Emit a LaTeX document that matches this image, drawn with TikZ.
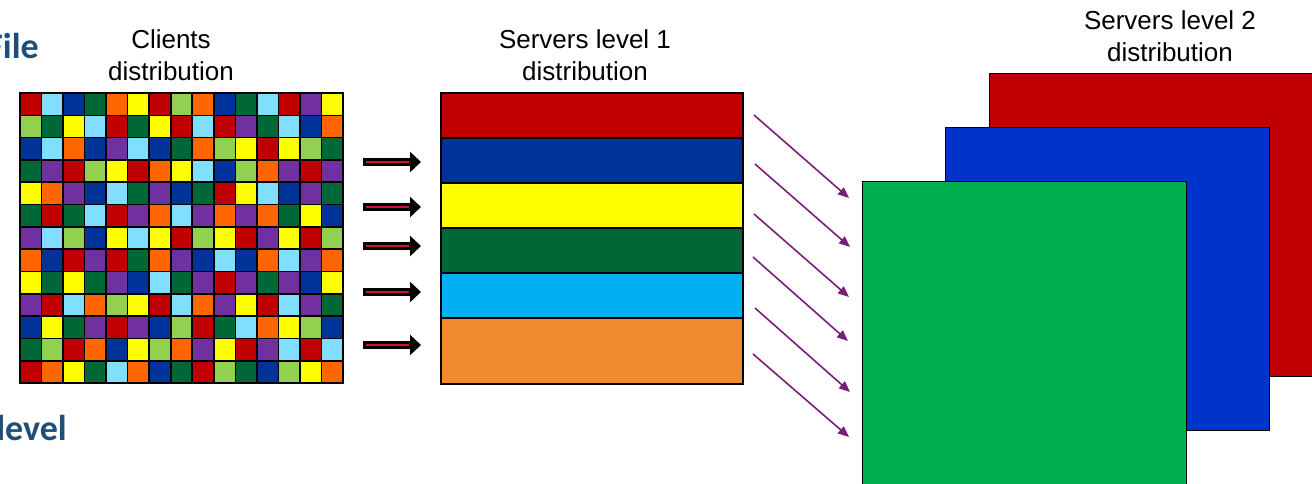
\documentclass[tikz,border=0pt]{standalone}
\usepackage{fontspec}
\setmainfont{Liberation Sans}
\newfontfamily\headfont{Carlito}
\usetikzlibrary{arrows.meta,calc}

% cell colours of the client grid
\definecolor{cR}{HTML}{C00000}
\definecolor{cL}{HTML}{80DFFF}
\definecolor{cB}{HTML}{003399}
\definecolor{cG}{HTML}{006837}
\definecolor{cO}{HTML}{FF6600}
\definecolor{cY}{HTML}{FFFF00}
\definecolor{cP}{HTML}{7030A0}
\definecolor{cA}{HTML}{92D050}
% level-1 bands
\definecolor{bandLB}{HTML}{00B0F0}
\definecolor{bandOr}{HTML}{F08A2E}
% level-2 blocks
\definecolor{sqBlue}{HTML}{0033CC}
\definecolor{sqGreen}{HTML}{00B050}
% connectors and headings
\definecolor{flowPurple}{RGB}{122,30,122}
\definecolor{headBlue}{HTML}{1F4E79}
\definecolor{shaftRed}{HTML}{D0102E}

\tikzset{
  lbl/.style={font=\fontsize{26}{32}\selectfont, align=center, inner sep=0pt},
  head/.style={font=\headfont\bfseries\fontsize{36}{40}\selectfont, text=headBlue, inner sep=0pt, anchor=base east},
  cellbox/.style={draw=black, line width=1.6pt},
  band/.style={rectangle, draw=black, line width=1.8pt, minimum width=302pt, inner sep=0pt, anchor=north west},
  block/.style={rectangle, draw=black, line width=1.4pt, minimum width=324pt, minimum height=303pt, inner sep=0pt, anchor=north west},
  fatarrow/.style={line width=8.5pt, -{Triangle[length=11pt,width=20pt]}},
  fatshaft/.style={shaftRed, line width=2pt},
  flow/.style={flowPurple, line width=1.6pt, -{Triangle[length=11pt,width=9pt]}}
}

\begin{document}
\begin{tikzpicture}[x=1pt,y=-1pt]
\useasboundingbox (0,0) rectangle (1312,483);
\clip (0,0) rectangle (1312,483);
\fill[white] (0,0) rectangle (1312,483);

% partially visible headings on the left
\node[head] (hFile) at (39,58) {File};
\node[head] (hLevel) at (67,440) {level};

% client grid: 13 rows x 15 columns
\foreach \row [count=\i from 0] in {
  {R,L,B,G,O,Y,R,A,O,B,G,L,R,P,Y},
  {A,G,Y,L,R,G,Y,R,L,R,P,G,L,B,O},
  {B,L,O,B,P,L,B,G,O,A,Y,R,Y,A,G},
  {G,P,R,A,Y,R,O,Y,L,B,A,O,P,R,P},
  {Y,O,P,B,L,G,P,B,G,R,Y,L,B,P,G},
  {G,R,G,L,R,P,O,L,P,O,P,O,G,Y,B},
  {P,L,A,B,Y,L,Y,R,A,Y,R,P,Y,R,A},
  {O,B,R,P,R,G,O,P,B,L,B,O,L,P,O},
  {Y,G,Y,G,P,B,L,G,P,R,P,G,P,B,Y},
  {P,R,L,O,A,Y,R,L,O,P,Y,R,L,P,G},
  {B,Y,G,P,R,P,B,A,R,G,L,O,Y,A,B},
  {G,A,R,O,B,Y,A,O,P,Y,R,P,L,R,L},
  {R,O,Y,G,L,O,B,G,R,A,G,B,A,Y,O}} {
  \foreach \c [count=\j from 0] in \row {
    \path[cellbox, fill=c\c] ({20+\j*21.533},{93+\i*22.308}) rectangle +(21.533,22.308);
  }
}
\node[lbl, anchor=north] (clientsLbl) at (171,29) {Clients\\distribution};

% level-1 servers: stacked bands
\node[band, fill=cR,     minimum height=45pt] (b1) at (440,92)  {};
\node[band, fill=cB,     minimum height=45pt] (b2) at (440,137) {};
\node[band, fill=cY,     minimum height=45pt] (b3) at (440,182) {};
\node[band, fill=cG,     minimum height=45pt] (b4) at (440,227) {};
\node[band, fill=bandLB, minimum height=45pt] (b5) at (440,272) {};
\node[band, fill=bandOr, minimum height=66pt] (b6) at (440,317) {};
\node[lbl, anchor=north] (l1Lbl) at (585,29) {Servers level 1\\distribution};

% level-2 servers: overlapping blocks
\node[block, fill=cR]      (s2a) at (989,73)  {};
\node[block, fill=sqBlue]  (s2b) at (945,127) {};
\node[block, fill=sqGreen] (s2c) at (862,181) {};
\node[lbl, anchor=north] (l2Lbl) at (1170,10) {Servers level 2\\distribution};

% block arrows from the grid to level 1
\foreach \k/\y in {1/162, 2/207, 3/246, 4/292, 5/345} {
  \coordinate (fa\k) at (363,\y);
  \coordinate (fb\k) at (421,\y);
  \draw[fatarrow] (fa\k) -- (fb\k);
  \draw[fatshaft] ($(fa\k)+(3,0)$) -- ($(fb\k)+(-12,0)$);
}

% thin arrows from level 1 to level 2
\foreach \k/\xa/\ya/\xb/\yb in {1/754/115/849/198, 2/755/164/850/247, 3/754/214/849/297,
                                4/753/257/848/341, 5/755/308/850/392, 6/753/354/849/437} {
  \coordinate (pa\k) at (\xa,\ya);
  \coordinate (pb\k) at (\xb,\yb);
  \draw[flow] (pa\k) -- (pb\k);
}
\end{tikzpicture}
\end{document}
